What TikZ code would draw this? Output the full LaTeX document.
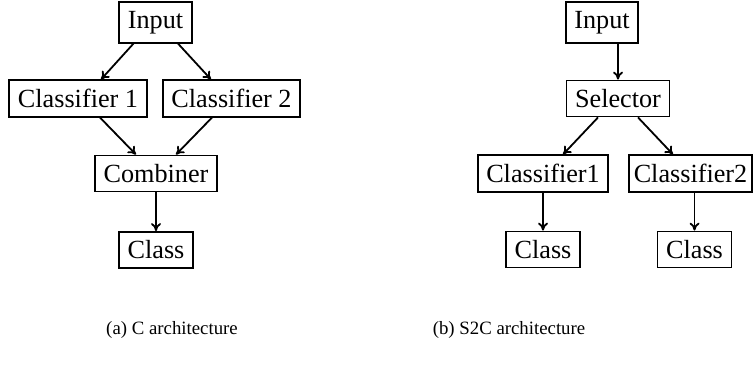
\documentclass[tikz,border=0pt]{standalone}
\usepackage{fontspec}
\setmainfont{Liberation Serif}
\usetikzlibrary{calc,arrows.meta}
\begin{document}
\begin{tikzpicture}[x=0.5pt,y=-0.5pt,
  box/.style={draw,line width=0.9pt,inner xsep=4.3pt,inner ysep=4.4pt,font=\fontsize{13.1}{15}\selectfont},
  arr/.style={line width=0.9pt,-{To[length=4pt,width=5pt]}},
  captext/.style={font=\fontsize{9.4}{11}\selectfont}]
\useasboundingbox (0,0) rectangle (753,364);
% left diagram
\node[box] (in1) at (155.5,22.5) {Input};
\node[box] (c1) at (78,98.5) {Classifier 1};
\node[box] (c2) at (231.5,98.5) {Classifier 2};
\node[box] (comb) at (156,173.5) {Combiner};
\node[box] (cl) at (156,250) {Class};
\draw[arr] ($(in1.south)+(-22,0)$) -- ($(c1.north)+(23,0)$);
\draw[arr] ($(in1.south)+(22.5,0)$) -- ($(c2.north)+(-20.5,0)$);
\draw[arr] ($(c1.south)+(22,0)$) -- ($(comb.north)+(-20,0)$);
\draw[arr] ($(c2.south)+(-19.5,0)$) -- ($(comb.north)+(20,0)$);
\draw[arr] (comb) -- (cl);
% right diagram
\node[box] (in2) at (602,22.5) {Input};
\node[box] (sel) at (618,98.5) {Selector};
\node[box] (d1) at (543,173.5) {Classifier1};
\node[box,inner xsep=2.2pt] (d2) at (690.5,173.5) {Classifier2};
\node[box] (k1) at (543,249.5) {Class};
\node[box] (k2) at (694.5,249.5) {Class};
\draw[arr] (in2.south -| sel.north) -- (sel.north);
\draw[arr] ($(sel.south)+(-20,0)$) -- ($(d1.north)+(20,0)$);
\draw[arr] ($(sel.south)+(20,0)$) -- ($(d2.north)+(-17.5,0)$);
\draw[arr] (d1.south -| k1.north) -- (k1.north);
\draw[arr] (d2.south -| k2.north) -- (k2.north);
% captions
\node[captext] (ca) at (172,330) {(a) C architecture};
\node[captext] (cb) at (509,330) {(b) S2C architecture};
\end{tikzpicture}
\end{document}
